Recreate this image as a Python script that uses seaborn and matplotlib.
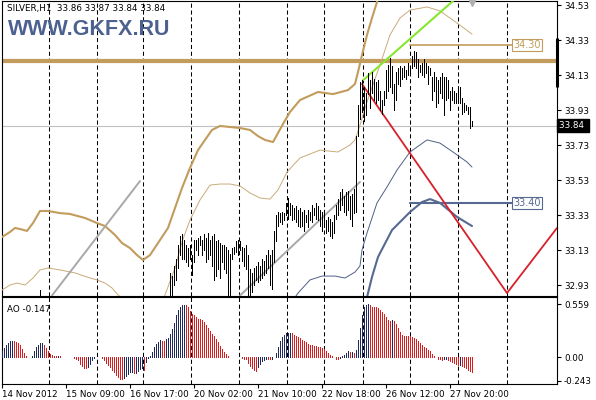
import matplotlib
matplotlib.use("Agg")
import matplotlib.pyplot as plt
import matplotlib.transforms as mtransforms
import numpy as np
import seaborn as sns

# ---------------- data (bar index = hourly bar, 0 = 14 Nov 2012 00:00) ----------------
first_bar = 84
bar_high = [
    33.00, 32.98, 33.04, 33.08, 33.16, 33.21, 33.22, 33.19, 33.16, 33.14,
    33.16, 33.10, 33.19, 33.19, 33.20, 33.21, 33.19, 33.22, 33.20, 33.23,
    33.19, 33.21, 33.22, 33.18, 33.19, 33.17, 33.16, 33.16, 33.15, 33.13,
    33.11, 33.14, 33.15, 33.18, 33.19, 33.18, 33.15, 33.14, 33.16, 33.10,
    33.02, 33.00, 33.03, 33.04, 33.06, 33.04, 33.08, 33.07, 33.10, 33.13,
    33.10, 33.13, 33.24, 33.33, 33.35, 33.34, 33.35, 33.34, 33.40, 33.43,
    33.40, 33.39, 33.37, 33.38, 33.36, 33.37, 33.35, 33.36, 33.33, 33.36,
    33.35, 33.39, 33.37, 33.40, 33.38, 33.36, 33.35, 33.34, 33.30, 33.32,
    33.31, 33.29, 33.33, 33.39, 33.42, 33.46, 33.48, 33.44, 33.46, 33.47,
    33.44, 33.45, 33.48, 33.78, 33.96, 34.09, 34.10, 34.06, 34.03, 34.14,
    34.10, 34.15, 34.11, 34.09, 34.10, 34.04, 33.99, 34.04, 34.16, 34.19,
    34.23, 34.18, 34.08, 34.15, 34.17, 34.18, 34.17, 34.18, 34.16, 34.20,
    34.18, 34.24, 34.27, 34.26, 34.22, 34.19, 34.20, 34.22, 34.20, 34.18,
    34.17, 34.12, 34.15, 34.12, 34.10, 34.12, 34.14, 34.12, 34.12, 34.10,
    34.04, 34.06, 34.04, 34.03, 34.06, 34.06, 34.00, 33.97, 33.96, 33.95,
    33.95, 33.87]
bar_low = [
    32.85, 32.85, 32.93, 32.96, 33.03, 33.10, 33.08, 33.08, 33.06, 33.04,
    33.08, 32.99, 33.06, 33.13, 33.10, 33.16, 33.10, 33.13, 33.06, 33.08,
    33.10, 33.04, 32.96, 32.98, 33.02, 32.97, 33.06, 33.02, 33.00, 32.85,
    32.85, 33.08, 33.11, 33.12, 33.10, 33.13, 33.07, 33.04, 33.02, 32.85,
    32.85, 32.89, 32.93, 32.96, 32.95, 32.96, 32.97, 32.99, 33.00, 33.03,
    32.93, 32.91, 33.06, 33.18, 33.27, 33.29, 33.28, 33.30, 33.33, 33.31,
    33.33, 33.30, 33.31, 33.29, 33.27, 33.26, 33.27, 33.24, 33.29, 33.26,
    33.30, 33.29, 33.33, 33.31, 33.30, 33.27, 33.24, 33.26, 33.23, 33.24,
    33.21, 33.20, 33.23, 33.31, 33.33, 33.36, 33.39, 33.35, 33.33, 33.36,
    33.31, 33.27, 33.34, 33.35, 33.78, 33.88, 33.92, 33.87, 33.90, 34.02,
    33.94, 34.03, 33.99, 33.97, 33.99, 33.93, 33.91, 33.96, 34.00, 34.04,
    34.06, 34.03, 33.93, 33.99, 34.08, 34.07, 34.11, 34.12, 34.11, 34.13,
    34.14, 34.17, 34.18, 34.17, 34.12, 34.15, 34.13, 34.12, 34.14, 34.08,
    34.13, 33.99, 34.04, 33.95, 33.97, 34.03, 34.00, 33.90, 33.99, 34.00,
    33.93, 33.99, 33.97, 33.97, 33.99, 33.97, 33.91, 33.92, 33.93, 33.91,
    33.83, 33.84]
early_bar = [19]
early_high = [32.90]
early_low = [32.85]

# thick band (upper) and thin band lines
thick_up_x = [0, 4, 6.5, 9, 12.5, 15.5, 19, 23, 29, 34, 41.5, 47.5, 51.5, 56.5, 60, 64, 67.5,
              70.5, 74, 79, 83, 86.5, 90, 94, 98, 101.5, 105, 109, 114, 119, 124, 128, 131.5,
              135.5, 140.5, 144, 149, 158, 165.5, 173, 176.5, 178, 180, 182.5, 185, 187.5,
              191.5, 200, 215, 235]
thick_up_y = [33.204, 33.233, 33.256, 33.250, 33.239, 33.284, 33.353, 33.353, 33.341, 33.336,
              33.313, 33.284, 33.267, 33.216, 33.170, 33.141, 33.101, 33.073, 33.101, 33.187,
              33.256, 33.370, 33.484, 33.599, 33.701, 33.759, 33.816, 33.839, 33.833, 33.827,
              33.816, 33.781, 33.759, 33.747, 33.850, 33.919, 33.987, 34.033, 34.021, 34.044,
              34.079, 34.147, 34.244, 34.359, 34.456, 34.547, 34.70, 34.85, 34.92, 34.90]
thin_up_x = [0, 4, 7.5, 11.5, 15.5, 19, 23, 29, 36.5, 44, 47.5, 51.5, 55, 58, 69, 76.5, 81.5,
             86.5, 90, 94, 99, 104, 109, 114, 119, 124, 129, 134, 138, 142.5, 149, 159, 168,
             174, 176.5, 179, 181.5, 184, 189, 194, 199, 204, 212.5, 219, 227.5, 235]
thin_up_y = [32.901, 32.930, 32.941, 32.930, 32.970, 33.016, 33.027, 33.016, 32.999, 32.970,
             32.959, 32.941, 32.913, 32.873, 32.79, 32.79, 32.873, 33.027, 33.176, 33.301,
             33.416, 33.501, 33.507, 33.507, 33.496, 33.456, 33.427, 33.421, 33.473, 33.576,
             33.656, 33.701, 33.690, 33.730, 33.759, 33.844, 33.941, 34.027, 34.187, 34.359,
             34.456, 34.501, 34.519, 34.496, 34.427, 34.364]
thin_dn_x = [120, 140, 148, 154, 160, 166.5, 171.5, 176.5, 179, 180, 182.5, 187.5, 192.5,
             197.5, 204, 212.5, 219, 225.5, 232.5, 235]
thin_dn_y = [32.60, 32.75, 32.884, 32.959, 32.981, 32.981, 32.970, 33.004, 33.039, 33.130,
             33.227, 33.399, 33.490, 33.587, 33.690, 33.759, 33.741, 33.690, 33.633, 33.604]
thick_dn_x = [170, 180, 182.5, 185, 188, 195, 204, 210, 214, 219, 227.5, 235]
thick_dn_y = [32.40, 32.70, 32.86, 32.976, 33.090, 33.244, 33.347, 33.404, 33.421, 33.399,
              33.319, 33.267]

# drawn objects
trend1_x, trend1_y = [25, 69], [32.87, 33.524]
trend2_x, trend2_y = [119, 179], [32.87, 33.519]
green_x, green_y = [180.5, 225.5], [34.10, 34.553]
red_x, red_y = [180, 252.5, 277.5], [34.079, 32.884, 33.256]
band_level = 34.21
level_hi, level_lo = 34.30, 33.40
level_start, level_end = 204, 255
last_price = 33.84

# Awesome Oscillator, one value per bar from bar 0
ao_values = [
    0.07, 0.10, 0.135, 0.157, 0.168, 0.171, 0.168, 0.16, 0.147, 0.126,
    0.085, 0.045, 0.02, 0.01, 0.007, 0.02, 0.07, 0.11, 0.13, 0.15,
    0.154, 0.136, 0.10, 0.068, 0.038, 0.027, 0.02, 0.016, 0.02, 0.017,
    0.01, 0.007, 0.008, 0.006, 0.007, 0.005, -0.003, -0.012, -0.028, -0.066,
    -0.088, -0.105, -0.11, -0.102, -0.066, -0.027, -0.008, 0.006, 0.01, 0.009,
    -0.004, -0.028, -0.056, -0.08, -0.10, -0.13, -0.157, -0.18, -0.20, -0.22,
    -0.23, -0.215, -0.195, -0.175, -0.154, -0.15, -0.165, -0.16, -0.14, -0.119,
    -0.11, -0.13, -0.045, -0.01, 0.02, 0.062, 0.115, 0.145, 0.158, 0.18,
    0.175, 0.17, 0.198, 0.207, 0.244, 0.30, 0.365, 0.44, 0.495, 0.534,
    0.545, 0.553, 0.548, 0.53, 0.492, 0.46, 0.44, 0.425, 0.408, 0.405,
    0.39, 0.37, 0.345, 0.31, 0.279, 0.25, 0.225, 0.195, 0.16, 0.122,
    0.09, 0.062, 0.035, 0.013, 0.003, 0.006, 0.008, 0.009, 0.01, 0.008,
    -0.005, -0.012, -0.02, -0.055, -0.084, -0.115, -0.135, -0.138, -0.10, -0.066,
    -0.04, -0.025, -0.015, -0.017, -0.018, -0.012, 0.005, 0.05, 0.105, 0.168,
    0.212, 0.24, 0.252, 0.257, 0.259, 0.256, 0.24, 0.222, 0.21, 0.199,
    0.184, 0.172, 0.16, 0.143, 0.133, 0.126, 0.122, 0.118, 0.11, 0.108,
    0.10, 0.09, 0.073, 0.05, 0.028, 0.015, 0.003, -0.012, -0.017, -0.004,
    0.012, 0.03, 0.05, 0.064, 0.058, 0.062, 0.05, 0.08, 0.18, 0.307,
    0.44, 0.525, 0.55, 0.559, 0.545, 0.53, 0.527, 0.525, 0.52, 0.50,
    0.475, 0.455, 0.42, 0.39, 0.377, 0.392, 0.385, 0.355, 0.31, 0.272,
    0.232, 0.23, 0.229, 0.228, 0.22, 0.212, 0.207, 0.195, 0.172, 0.15,
    0.13, 0.11, 0.095, 0.083, 0.063, 0.035, 0.016, 0.0, -0.012, -0.017,
    -0.028, -0.016, -0.014, -0.022, -0.035, -0.043, -0.053, -0.065, -0.082, -0.078,
    -0.09, -0.10, -0.114, -0.128, -0.14, -0.147]

price_ticks = [34.53, 34.33, 34.13, 33.93, 33.73, 33.53, 33.33, 33.13, 32.93]
ao_ticks = [0.559, 0.0, -0.243]
ao_tick_labels = ["0.559", "0.00", "-0.243"]
grid_pos = [23.5, 47.5, 70.5, 94.5, 118.5, 142.5, 161, 180.5, 204, 228, 252.5]
time_pos = [0, 32, 64, 96, 128, 160, 192, 224]
time_labels = ["14 Nov 2012", "15 Nov 09:00", "16 Nov 17:00", "20 Nov 02:00",
               "21 Nov 10:00", "22 Nov 18:00", "26 Nov 12:00", "27 Nov 20:00"]

# ---------------- plot ----------------
sns.set_theme(style="white")
plt.rcParams['font.family'] = ['DejaVu Sans']

W, H = 596, 400
fig = plt.figure(figsize=(W / 100, H / 100), dpi=100)
fig.patch.set_facecolor('white')
ax = fig.add_axes([2 / W, 1 - 295.5 / H, 555 / W, 294.5 / H])
ax2 = fig.add_axes([2 / W, 1 - 384 / H, 555 / W, 87 / H])

tan = '#c29c5c'
tan_thin = '#c8ab78'
navy = '#566990'
navy_thin = '#4f5f86'
dash = (0, (4, 2.6))

for a in (ax, ax2):
    a.set_facecolor('white')
    a.set_xlim(0, 277.5)
    for s in a.spines.values():
        s.set_color('black')
        s.set_linewidth(0.8)
    for g in grid_pos:
        a.axvline(g, color='black', lw=0.75, ls=dash, zorder=1)

ax.set_ylim(32.870, 34.553)

# horizontal levels
ax.axhline(last_price, color='#c0c0c0', lw=0.8, zorder=1)
ax.axhline(band_level, color=tan, lw=3.0, zorder=2)
ax.plot([level_start, level_end], [level_hi, level_hi], color=tan, lw=1.2, zorder=2)
ax.plot([level_start, level_end], [level_lo, level_lo], color=navy, lw=1.5, zorder=2)

# indicator lines
sns.lineplot(x=thick_up_x, y=thick_up_y, ax=ax, color=tan, lw=1.5, estimator=None, sort=False, zorder=3)
sns.lineplot(x=thin_up_x, y=thin_up_y, ax=ax, color=tan_thin, lw=0.7, estimator=None, sort=False, zorder=3)
sns.lineplot(x=thin_dn_x, y=thin_dn_y, ax=ax, color=navy_thin, lw=0.7, estimator=None, sort=False, zorder=3)
sns.lineplot(x=thick_dn_x, y=thick_dn_y, ax=ax, color=navy, lw=1.5, estimator=None, sort=False, zorder=3)

# trend lines
sns.lineplot(x=trend1_x, y=trend1_y, ax=ax, color='#a8a8a8', lw=1.4, estimator=None, zorder=3)
sns.lineplot(x=trend2_x, y=trend2_y, ax=ax, color='#a8a8a8', lw=1.4, estimator=None, zorder=3)
sns.lineplot(x=green_x, y=green_y, ax=ax, color='#86e62e', lw=1.5, estimator=None, zorder=4)
sns.lineplot(x=red_x, y=red_y, ax=ax, color='#d8202a', lw=1.3, estimator=None, sort=False, zorder=4)

# price bars
bx = np.arange(first_bar, first_bar + len(bar_high))
ax.vlines(bx, bar_low, bar_high, color='black', lw=0.55, antialiased=False, zorder=5)
ax.vlines(early_bar, early_low, early_high, color='black', lw=0.55, antialiased=False, zorder=5)
ax.plot([235], [34.54], marker='v', ms=5, color='#b0b0b0', zorder=6, clip_on=False)

# level labels
ax.text(level_end + 0.5, level_hi, "34.30", fontsize=7, color=tan, ha='left', va='center',
        bbox=dict(boxstyle='square,pad=0.12', fc='white', ec=tan, lw=0.8), zorder=6)
ax.text(level_end + 0.5, level_lo, "33.40", fontsize=7, color=navy, ha='left', va='center',
        bbox=dict(boxstyle='square,pad=0.12', fc='white', ec=navy, lw=0.8), zorder=6)

# right price axis
ax.yaxis.tick_right()
ax.set_yticks(price_ticks)
ax.set_yticklabels([f"{p:.2f}" for p in price_ticks])
ax.tick_params(axis='y', direction='out', length=3, width=0.8, pad=2, labelsize=6.3,
               colors='black', left=False, right=True)
ax.set_xticks([])
trans = mtransforms.blended_transform_factory(ax.transAxes, ax.transData)
ax.text(1.004, last_price, "33.84 ", fontsize=6.3, color='white', ha='left', va='center',
        transform=trans, bbox=dict(boxstyle='square,pad=0.25', fc='black', ec='black'),
        zorder=7, clip_on=False)
ax.plot([1.0, 1.0], [34.341, 34.061], transform=trans, color='black', lw=2.2,
        solid_capstyle='butt', clip_on=False, zorder=7)

ax.text(0.009, 0.975, "SILVER,H1  33.86 33.87 33.84 33.84", transform=ax.transAxes,
        fontsize=6.3, color='black', ha='left', va='center')
ax.text(0.011, 0.903, "WWW.GKFX.RU", transform=ax.transAxes, fontsize=15.5,
        fontweight='bold', family=['Liberation Sans', 'DejaVu Sans'], color='#4d6191',
        ha='left', va='center')

# AO histogram
ao_x = np.arange(len(ao_values))
ao_arr = np.array(ao_values)
rising = np.r_[True, ao_arr[1:] > ao_arr[:-1]]
ao_colors = np.where(rising, '#1e2a5c', '#d81e1e')
ax2.vlines(ao_x, 0, ao_arr, colors=ao_colors, lw=0.55, antialiased=False, zorder=3)
ax2.set_ylim(-0.2775, 0.6335)
ax2.yaxis.tick_right()
ax2.set_yticks(ao_ticks)
ax2.set_yticklabels(ao_tick_labels)
ax2.tick_params(axis='y', direction='out', length=3, width=0.8, pad=2, labelsize=6.3,
                colors='black', left=False, right=True)
ax2.set_xticks(time_pos)
ax2.set_xticklabels(time_labels)
for lbl in ax2.get_xticklabels():
    lbl.set_ha('left')
ax2.tick_params(axis='x', direction='out', length=3, width=0.8, pad=1.5, labelsize=6.3,
                colors='black', bottom=True)
ax2.text(0.009, 0.86, "AO -0.147", transform=ax2.transAxes, fontsize=6.3, color='black',
         ha='left', va='center')

fig.savefig("out.png", dpi=100, facecolor='white')
